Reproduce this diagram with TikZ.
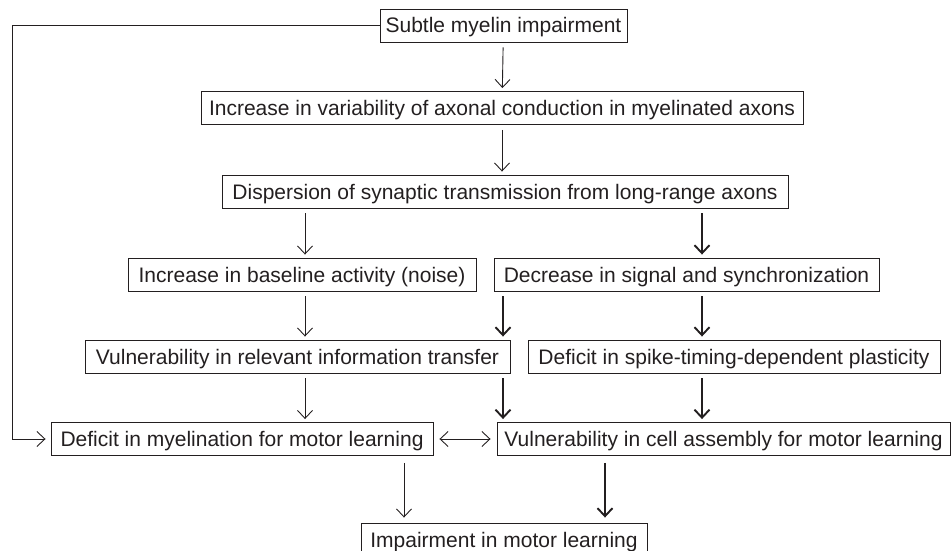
\documentclass[tikz,border=0pt]{standalone}
\usepackage{fontspec}
\setmainfont{Liberation Sans}
\usepackage{tikz}
\usetikzlibrary{arrows.meta}
\usetikzlibrary{positioning}

\definecolor{ink}{HTML}{231F20}

\tikzset{
    box/.style={draw=ink, text=ink, rectangle, line width=0.9pt, inner sep=0pt,
        minimum height=33, text height=15pt, text depth=0pt,
        font=\fontsize{21}{24}\selectfont},
    thin/.style={draw=ink, line width=0.9pt, ->, shorten >=3pt, shorten <=5pt},
    thick/.style={thin, line width=1.9pt},
    >={Straight Barb[length=8pt, width=15pt]}
}

\begin{document}
\begin{tikzpicture}[x=1pt, y=-1pt]
    \useasboundingbox (0, 0) rectangle (951, 551);

    \draw (503.5, 25.5) node[box, minimum width=247] (subtle) {Subtle myelin impairment};
    \draw (502, 108) node[box, minimum width=602] (variab) {Increase in variability of axonal conduction in myelinated axons};
    \draw (505, 191.5) node[box, minimum width=566] (disp) {Dispersion of synaptic transmission from long-range axons};
    \draw (302, 274.5) node[box, minimum width=348] (noise) {Increase in baseline activity (noise)};
    \draw (686.5, 274.5) node[box, minimum width=385] (signal) {Decrease in signal and synchronization};
    \draw (297.5, 356.5) node[box, minimum width=425] (transf) {Vulnerability in relevant information transfer};
    \draw (734, 356.5) node[box, minimum width=412] (stdp) {Deficit in spike-timing-dependent plasticity};
    \draw (242, 439) node[box, minimum width=382] (myelin) {Deficit in myelination for motor learning};
    \draw (723.5, 439) node[box, minimum width=453] (assembly) {Vulnerability in cell assembly for motor learning};
    \draw (504, 539.5) node[box, minimum width=286] (motor) {Impairment in motor learning};

    % columns of the arrows
    \coordinate (lx) at (305, 0);
    \coordinate (mx) at (503, 0);
    \coordinate (rx) at (702, 0);
    \coordinate (bl) at (404, 0);
    \coordinate (br) at (605, 0);
    \coordinate (corner) at (12, 25.5);

    \draw[thin] (subtle) -- (variab);
    \draw[thin] (variab) -- (disp.north -| variab);
    \draw[thin] (disp.south -| lx) -- (noise.north -| lx);
    \draw[thick] (disp.south -| rx) -- (signal.north -| rx);

    \draw[thin] (noise.south -| lx) -- (transf.north -| lx);
    \draw[thick] (signal.south -| mx) -- (transf.north -| mx);
    \draw[thick] (signal.south -| rx) -- (stdp.north -| rx);

    \draw[thin] (transf.south -| lx) -- (myelin.north -| lx);
    \draw[thick] (transf.south -| mx) -- (assembly.north -| mx);
    \draw[thick] (stdp.south -| rx) -- (assembly.north -| rx);

    \draw[thin, <->, shorten <=6pt, shorten >=6pt] (myelin) -- (assembly);
    \draw[thin, shorten >=5pt, shorten <=7pt] (myelin.south -| bl) -- (motor.north -| bl);
    \draw[thick, shorten >=5pt, shorten <=7pt] (assembly.south -| br) -- (motor.north -| br);

    \draw[thin, shorten <=0pt, shorten >=5pt] (subtle.west) -- (corner) |- (myelin.west);
\end{tikzpicture}
\end{document}
